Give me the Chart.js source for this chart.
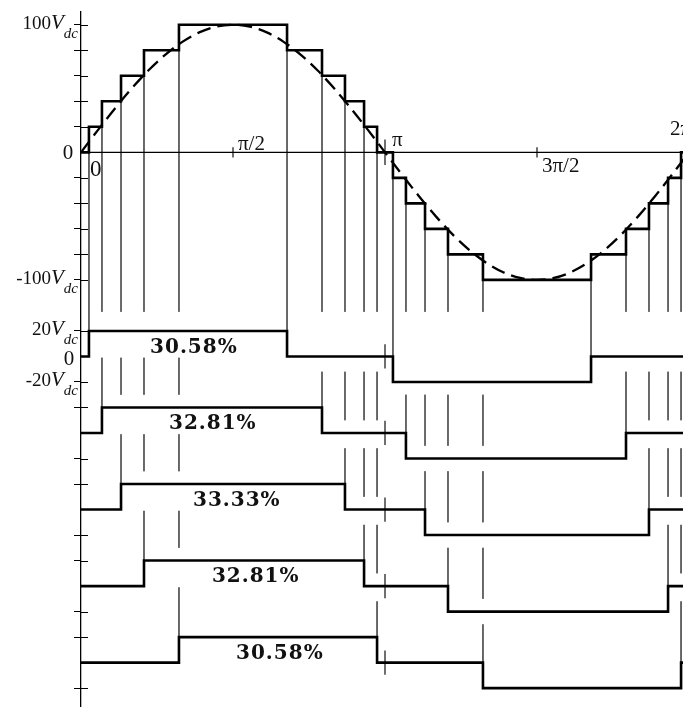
<!DOCTYPE html>
<html>
<head>
<meta charset="utf-8">
<script src="https://cdn.jsdelivr.net/npm/chart.js@4.4.0/dist/chart.umd.min.js"></script>
<style>
  html, body { margin: 0; padding: 0; background: #fff; width: 683px; height: 709px; overflow: hidden; }
  #wrap { width: 692px; height: 709px; position: relative; }
</style>
</head>
<body>
<div id="wrap"><canvas id="chart"></canvas></div>
<script>
// ---- data ----
// first-quarter switching angles (degrees), one per H-bridge cell
const switchAngles = [4.7, 12.4, 23.7, 37.3, 58.0];
// staircase levels reached after each switching angle (x Vdc)
const stepLevels = [20, 40, 60, 80, 100];
// one cell output level (x Vdc)
const cellLevel = 20;
// reference sine, read every 10 degrees
const sineAngles = [0, 10, 20, 30, 40, 50, 60, 70, 80, 90, 100, 110, 120, 130, 140, 150, 160, 170, 180,
                    190, 200, 210, 220, 230, 240, 250, 260, 270, 280, 290, 300, 310, 320, 330, 340, 350, 360];
const sineValues = [0, 17.4, 34.2, 50, 64.3, 76.6, 86.6, 94, 98.5, 100, 98.5, 94, 86.6, 76.6, 64.3, 50, 34.2, 17.4, 0,
                    -17.4, -34.2, -50, -64.3, -76.6, -86.6, -94, -98.5, -100, -98.5, -94, -86.6, -76.6, -64.3, -50, -34.2, -17.4, 0];
// duty labels of the five cells
const dutyLabels = ['30.58%', '32.81%', '33.33%', '32.81%', '30.58%'];
// x axis tick labels
const xTickAngles = [90, 180, 270];
const xTickLabels = ['π/2', 'π', '3π/2'];
// main panel y ticks
const mainTicks = [100, 80, 60, 40, 20, -20, -40, -60, -80, -100];

// ---- layout (not data) ----
const rowBase = [-160, -220, -280, -340, -400];   // zero line of every cell trace
const dutyLabelAt = [40.9, 52.1, 66.3, 77.5, 91.8]; // left edge of the duty label, in degrees
const MAIN_GUIDE_END = -125;

const N = switchAngles.length;

// cell k: +level from a[k] to 180-a[N-1-k], -level from 180+a[k] to 360-a[N-1-k]
function cellPoints(k) {
  const up = switchAngles[k], back = switchAngles[N - 1 - k];
  return [
    { x: 0, y: 0 }, { x: up, y: cellLevel }, { x: 180 - back, y: 0 },
    { x: 180 + up, y: -cellLevel }, { x: 360 - back, y: 0 }, { x: 360, y: 0 }
  ];
}
function cellLevelAt(k, t) {
  const up = switchAngles[k], back = switchAngles[N - 1 - k];
  if (t > up && t < 180 - back) return cellLevel;
  if (t > 180 + up && t < 360 - back) return -cellLevel;
  return 0;
}

// staircase edges: angle, level after, level before, cell that switches, top of that cell step
const edges = [];
switchAngles.forEach((a, i) => edges.push({ x: a, after: stepLevels[i], before: i ? stepLevels[i - 1] : 0, row: i, top: rowBase[i] + cellLevel }));
for (let i = N - 1; i >= 0; i--) edges.push({ x: 180 - switchAngles[i], after: i ? stepLevels[i - 1] : 0, before: stepLevels[i], row: N - 1 - i, top: rowBase[N - 1 - i] + cellLevel });
switchAngles.forEach((a, i) => edges.push({ x: 180 + a, after: -stepLevels[i], before: i ? -stepLevels[i - 1] : 0, row: i, top: rowBase[i] }));
for (let i = N - 1; i >= 0; i--) edges.push({ x: 360 - switchAngles[i], after: i ? -stepLevels[i - 1] : 0, before: -stepLevels[i], row: N - 1 - i, top: rowBase[N - 1 - i] });

const stairPoints = [{ x: 0, y: 0 }].concat(edges.map(e => ({ x: e.x, y: e.after })), [{ x: 360, y: 0 }]);

// thin vertical guides from each staircase edge down to the cell that switches there
const guidePoints = [];
edges.forEach(e => {
  const from = Math.min(e.before, e.after);
  const segs = [];
  if (e.row === 0) {
    segs.push([from, e.top]);
  } else {
    segs.push([from, MAIN_GUIDE_END]);
    for (let r = 0; r < e.row; r++) {
      const lv = cellLevelAt(r, e.x);
      const y0 = rowBase[r] + lv - (lv > 0 ? 21 : lv < 0 ? 10 : 12);
      const y1 = r + 1 < e.row ? rowBase[r + 1] + cellLevelAt(r + 1, e.x) + 10 : e.top;
      if (y0 > y1) segs.push([y0, y1]);
    }
  }
  segs.forEach(s => guidePoints.push({ x: e.x, y: s[0] }, { x: e.x, y: s[1] }, { x: e.x, y: null }));
});

// small axis marks on the horizontal lines
const markPoints = [];
xTickAngles.forEach(a => {
  const h = a === 180 ? 10 : 4;
  markPoints.push({ x: a, y: h }, { x: a, y: -h }, { x: a, y: null });
});
rowBase.forEach(b => markPoints.push({ x: 180, y: b + 9.5 }, { x: 180, y: b - 9.5 }, { x: 180, y: null }));

const yTicks = mainTicks.concat(...rowBase.map(b => [b + cellLevel, b - cellLevel]));

const lineBase = { pointRadius: 0, fill: false, spanGaps: false };
const datasets = [
  Object.assign({ data: guidePoints, borderColor: '#555', borderWidth: 1, order: 6 }, lineBase),
  Object.assign({ data: markPoints, borderColor: '#111', borderWidth: 1.2, order: 5 }, lineBase),
  Object.assign({ data: [{ x: 0, y: 0 }, { x: 360, y: 0 }], borderColor: '#000', borderWidth: 1.3, order: 4 }, lineBase),
  Object.assign({ data: sineAngles.map((a, i) => ({ x: a, y: sineValues[i] })), borderColor: '#000', borderWidth: 2.3,
    borderDash: [14, 7], cubicInterpolationMode: 'monotone', order: 3 }, lineBase),
  Object.assign({ data: stairPoints, borderColor: '#000', borderWidth: 2.6, stepped: 'before', order: 1 }, lineBase)
];
rowBase.forEach((b, k) => {
  datasets.push(Object.assign({
    data: cellPoints(k).map(p => ({ x: p.x, y: p.y + b })),
    borderColor: '#000', borderWidth: 2.6, stepped: 'before', order: 1
  }, lineBase));
});

const SERIF = '"Liberation Serif", "DejaVu Serif", serif';

function vdcLabel(ctx, num, y) {
  ctx.font = 'italic 15px ' + SERIF;
  const wdc = ctx.measureText('dc').width;
  ctx.font = 'italic 21px ' + SERIF;
  const wv = ctx.measureText('V').width;
  const xdc = 78 - wdc, xv = xdc - wv;
  ctx.textAlign = 'left';
  ctx.fillText('V', xv, y + 4);
  ctx.font = 'italic 15px ' + SERIF;
  ctx.fillText('dc', xdc, y + 13);
  ctx.font = '19px ' + SERIF;
  ctx.textAlign = 'right';
  ctx.fillText(num, xv, y + 4);
}

const labelPlugin = {
  id: 'labels',
  afterDraw(chart) {
    const ctx = chart.ctx, xs = chart.scales.x, ys = chart.scales.y;
    const left = chart.chartArea.left;
    ctx.save();
    // inner half of the y ticks
    ctx.strokeStyle = '#000';
    ctx.lineWidth = 1;
    yTicks.forEach(v => {
      const y = Math.round(ys.getPixelForValue(v)) + 0.5;
      ctx.beginPath(); ctx.moveTo(left, y); ctx.lineTo(left + 7, y); ctx.stroke();
    });
    ctx.fillStyle = '#111';
    ctx.textBaseline = 'alphabetic';
    // y labels
    vdcLabel(ctx, '100', ys.getPixelForValue(100));
    vdcLabel(ctx, '-100', ys.getPixelForValue(-100));
    vdcLabel(ctx, '20', ys.getPixelForValue(rowBase[0] + cellLevel));
    vdcLabel(ctx, '-20', ys.getPixelForValue(rowBase[0] - cellLevel));
    ctx.font = '21px ' + SERIF;
    ctx.textAlign = 'center';
    ctx.fillText('0', 68, ys.getPixelForValue(0) + 7);
    ctx.fillText('0', 69, ys.getPixelForValue(rowBase[0]) + 9);
    // x labels
    const y0 = ys.getPixelForValue(0);
    ctx.textAlign = 'left';
    ctx.font = '23px ' + SERIF;
    ctx.fillText('0', xs.getPixelForValue(0) + 9, y0 + 24);
    ctx.font = '21px ' + SERIF;
    ctx.fillText(xTickLabels[0], xs.getPixelForValue(xTickAngles[0]) + 5, y0 - 2);
    ctx.fillText(xTickLabels[1], xs.getPixelForValue(xTickAngles[1]) + 7, y0 - 6);
    ctx.fillText(xTickLabels[2], xs.getPixelForValue(xTickAngles[2]) + 5, y0 + 20);
    ctx.fillText('2π', xs.getPixelForValue(360) - 19, y0 - 17);
    // duty labels
    ctx.font = 'bold 20px "DejaVu Serif", serif';
    ctx.letterSpacing = '1px';
    dutyLabels.forEach((t, k) => {
      ctx.fillText(t, xs.getPixelForValue(dutyLabelAt[k]), ys.getPixelForValue(rowBase[k] + 3));
    });
    ctx.restore();
  }
};

new Chart(document.getElementById('chart'), {
  type: 'line',
  data: { datasets: datasets },
  options: {
    responsive: true,
    maintainAspectRatio: false,
    animation: false,
    layout: { padding: { left: 0, right: 3, top: 12, bottom: 3 } },
    plugins: { legend: { display: false }, tooltip: { enabled: false } },
    scales: {
      x: { type: 'linear', min: 0, max: 360, display: false },
      y: {
        type: 'linear', min: -434, max: 110,
        afterBuildTicks: s => { s.ticks = yTicks.map(v => ({ value: v })); },
        afterFit: s => { s.width = 81; },
        ticks: { display: false },
        grid: { drawOnChartArea: false, drawTicks: true, tickLength: 7, tickColor: '#000', tickWidth: 1, color: '#000' },
        border: { display: true, color: '#000', width: 1.3 }
      }
    }
  },
  plugins: [labelPlugin]
});
</script>
</body>
</html>
